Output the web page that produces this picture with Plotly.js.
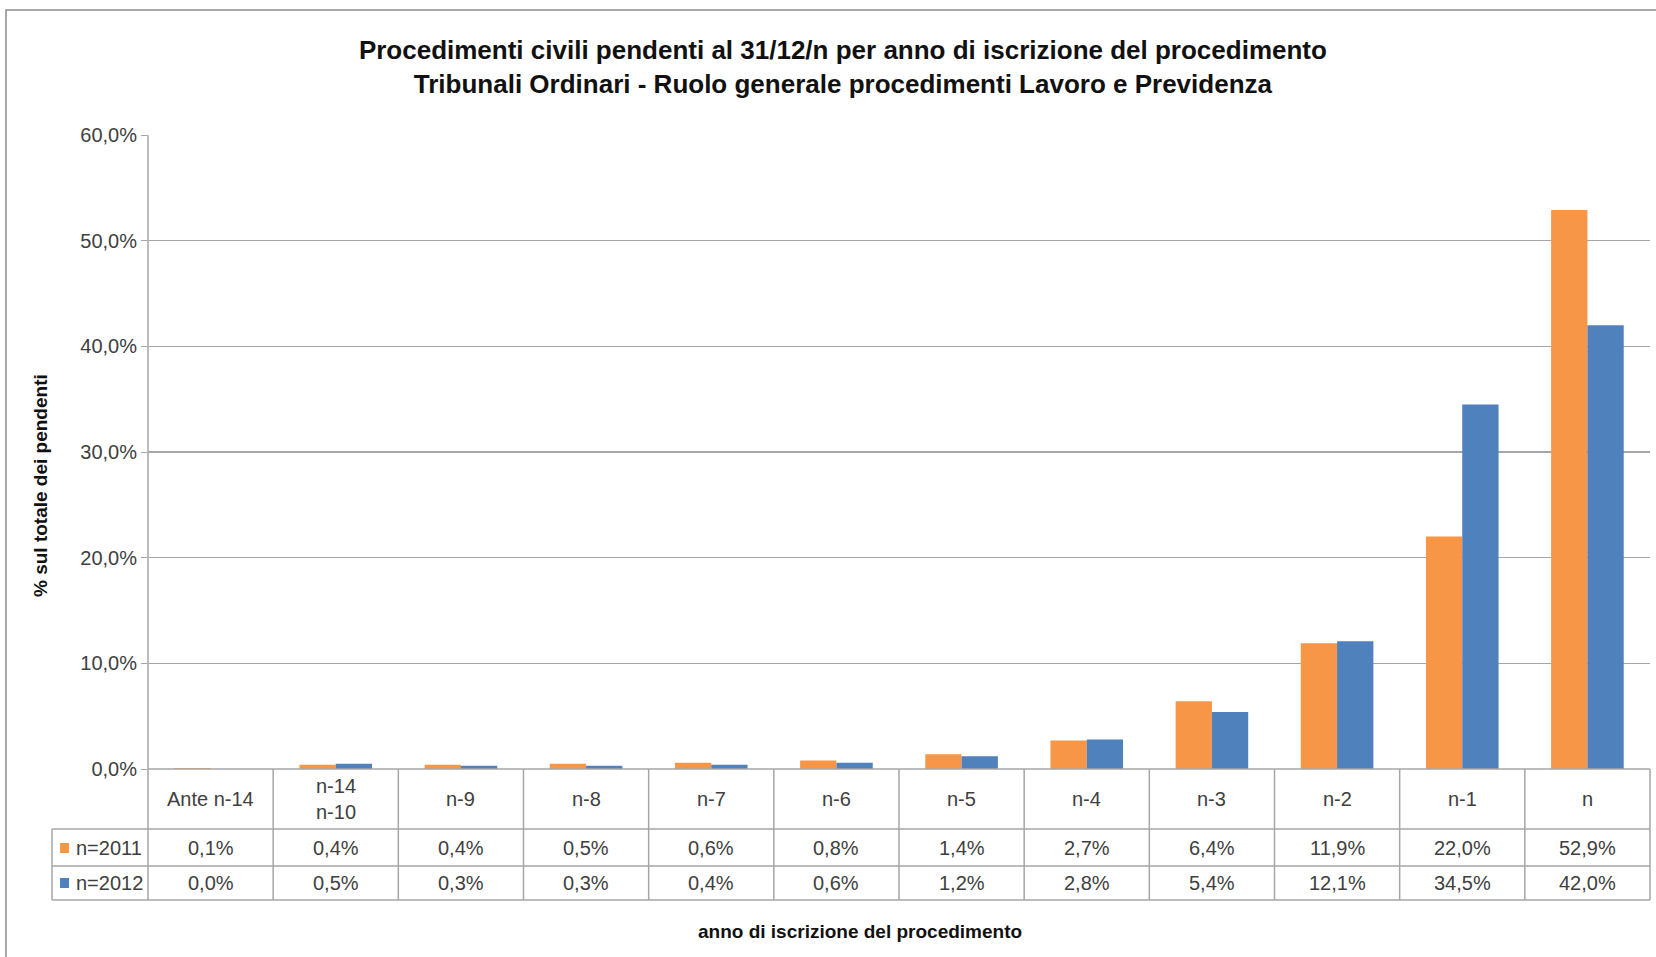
<!DOCTYPE html>
<html>
<head>
<meta charset="utf-8">
<script src="https://cdn.plot.ly/plotly-3.0.1.min.js"></script>
<style>
  body { margin: 0; background: #fff; }
  #chart { width: 1656px; height: 957px; }
</style>
</head>
<body>
<div id="chart"></div>
<script>
// categorie (anno di iscrizione) e valori in % sul totale dei pendenti
var categories = ['Ante n-14', 'n-14<br>n-10', 'n-9', 'n-8', 'n-7', 'n-6', 'n-5', 'n-4', 'n-3', 'n-2', 'n-1', 'n'];
var seriesNames = ['n=2011', 'n=2012'];
var n2011 = [0.1, 0.4, 0.4, 0.5, 0.6, 0.8, 1.4, 2.7, 6.4, 11.9, 22.0, 52.9];
var n2012 = [0.0, 0.5, 0.3, 0.3, 0.4, 0.6, 1.2, 2.8, 5.4, 12.1, 34.5, 42.0];
var colors = ['#F79646', '#4F81BD'];

var FONT = '"Liberation Sans", Arial, sans-serif';
var TXT = '#404040';
var LINE = '#a6a6a6';

// area del grafico in pixel
var T = 135, B = 769, L = 148, R = 1650;
var H = B - T, W = R - L;
function py(p) { return (B - p) / H; }
function px(p) { return (p - L) / W; }

var rowY = [799, 848, 883];     // centri righe tabella
var rowLines = [829, 866, 900]; // bordi inferiori righe
var legendLeft = 52;

function fmt(v) { return v.toFixed(1).replace('.', ',') + '%'; }

var data = [
  { type: 'bar', x: categories, y: n2011, name: seriesNames[0], marker: { color: colors[0] } },
  { type: 'bar', x: categories, y: n2012, name: seriesNames[1], marker: { color: colors[1] } }
];

var shapes = [];
var annotations = [];

// bordo esterno
shapes.push({ type: 'rect', xref: 'paper', yref: 'paper', x0: px(6), x1: px(1700), y0: py(10), y1: py(1000),
  line: { color: '#8c8c8c', width: 1.5 } });

// linee orizzontali tabella
shapes.push({ type: 'line', xref: 'paper', yref: 'paper', x0: 0, x1: 1, y0: py(B), y1: py(B), line: { color: LINE, width: 1.5 } });
rowLines.forEach(function (p) {
  shapes.push({ type: 'line', xref: 'paper', yref: 'paper', x0: px(legendLeft), x1: 1, y0: py(p), y1: py(p), line: { color: LINE, width: 1.5 } });
});
// linee verticali tabella
for (var k = 0; k <= categories.length; k++) {
  var xk = k / categories.length;
  shapes.push({ type: 'line', xref: 'paper', yref: 'paper', x0: xk, x1: xk, y0: k === 0 ? 1 : py(B), y1: py(rowLines[2]),
    line: { color: LINE, width: 1.5 } });
}
shapes.push({ type: 'line', xref: 'paper', yref: 'paper', x0: px(legendLeft), x1: px(legendLeft), y0: py(rowLines[0]), y1: py(rowLines[2]),
  line: { color: LINE, width: 1.5 } });

// testo tabella
categories.forEach(function (c, i) {
  annotations.push({ xref: 'x', yref: 'paper', x: c, y: py(rowY[0]), text: c, showarrow: false,
    font: { family: FONT, size: 20, color: TXT }, yanchor: 'middle' });
  annotations.push({ xref: 'x', yref: 'paper', x: c, y: py(rowY[1]), text: fmt(n2011[i]), showarrow: false,
    font: { family: FONT, size: 20, color: TXT }, yanchor: 'middle' });
  annotations.push({ xref: 'x', yref: 'paper', x: c, y: py(rowY[2]), text: fmt(n2012[i]), showarrow: false,
    font: { family: FONT, size: 20, color: TXT }, yanchor: 'middle' });
});
// legenda nella tabella
seriesNames.forEach(function (s, j) {
  var cy = rowY[j + 1];
  shapes.push({ type: 'rect', xref: 'paper', yref: 'paper', x0: px(60), x1: px(69), y0: py(cy - 5), y1: py(cy + 5),
    fillcolor: colors[j], line: { width: 0 } });
  annotations.push({ xref: 'paper', yref: 'paper', x: px(74), y: py(cy), xanchor: 'left', yanchor: 'middle',
    text: s, showarrow: false, font: { family: FONT, size: 20, color: TXT } });
});
// titoli assi
annotations.push({ xref: 'paper', yref: 'paper', x: px(860), y: py(931), text: '<b>anno di iscrizione del procedimento</b>',
  showarrow: false, font: { family: FONT, size: 19, color: '#111' }, yanchor: 'middle' });
annotations.push({ xref: 'paper', yref: 'paper', x: px(40), y: py(486), text: '<b>% sul totale dei pendenti</b>',
  textangle: -90, showarrow: false, font: { family: FONT, size: 19, color: '#111' }, xanchor: 'center', yanchor: 'middle' });

var layout = {
  width: 1656,
  height: 957,
  margin: { l: L, r: 1656 - R, t: T, b: 957 - B },
  paper_bgcolor: '#fff',
  plot_bgcolor: '#fff',
  separators: ',.',
  showlegend: false,
  bargap: 0.42,
  bargroupgap: 0,
  title: {
    text: '<b>Procedimenti civili pendenti al 31/12/n per anno di iscrizione del procedimento</b><br><b>Tribunali Ordinari - Ruolo generale procedimenti Lavoro e Previdenza</b>',
    font: { family: FONT, size: 26, color: '#111' },
    x: 0.509, xref: 'container', xanchor: 'center',
    y: 0.938, yref: 'container', yanchor: 'top'
  },
  xaxis: {
    type: 'category',
    range: [-0.5, categories.length - 0.5],
    showticklabels: false,
    showgrid: false,
    zeroline: false,
    showline: false,
    fixedrange: true
  },
  yaxis: {
    range: [0, 60],
    dtick: 10,
    tickformat: '.1f',
    ticksuffix: '%',
    ticks: 'outside',
    ticklen: 6,
    tickcolor: LINE,
    showline: false,
    gridcolor: LINE,
    gridwidth: 1.5,
    zeroline: false,
    automargin: false,
    tickfont: { family: FONT, size: 20, color: TXT }
  },
  shapes: shapes,
  annotations: annotations
};

Plotly.newPlot('chart', data, layout, { displayModeBar: false, staticPlot: true });
</script>
</body>
</html>
